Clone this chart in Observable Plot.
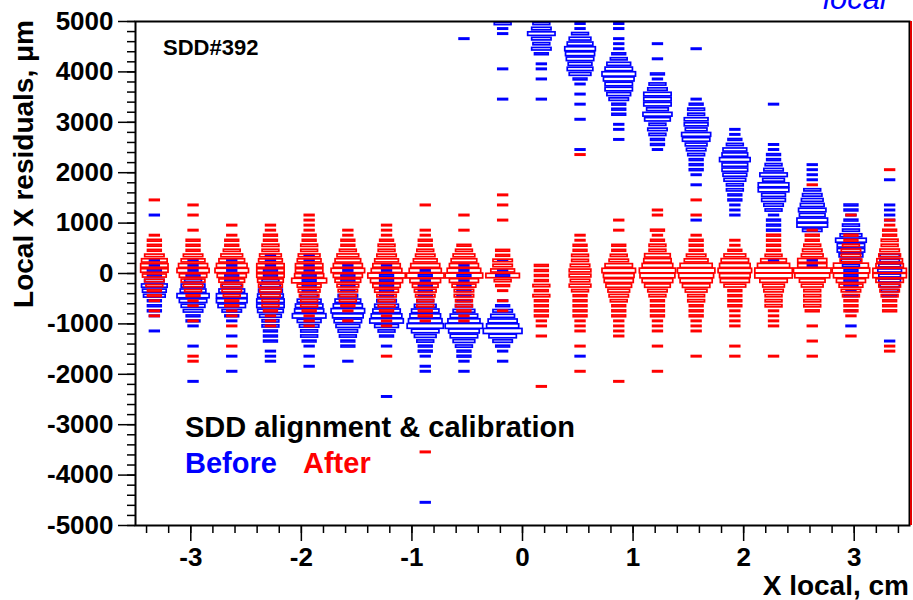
<!DOCTYPE html>
<html><head><meta charset="utf-8">
<script src="https://cdn.jsdelivr.net/npm/d3@7"></script>
<script src="https://cdn.jsdelivr.net/npm/@observablehq/plot@0.6"></script>
<style>body{margin:0;background:#fff} #chart{position:relative;width:913px;height:600px}</style>
</head><body><div id="chart"></div>
<script>
// X bin centres (cm), 20 bins of 0.35 cm
const xCenters = [-3.325,-2.975,-2.625,-2.275,-1.925,-1.575,-1.225,-0.875,-0.525,-0.175,0.175,0.525,0.875,1.225,1.575,1.925,2.275,2.625,2.975,3.325];
// Per x bin: runs of [first y-bin centre (µm), counts in consecutive 100 µm bins]
const before = [
 [[-1150,[1,0,0,1,2,2,2,5,6,7,4,2,2,1,1]],[1150,[1]]],
 [[-2150,[1]],[-1450,[1]],[-1050,[1,2,2,4,6,8,11,7,6,3,2,1,1,1]]],
 [[-1950,[1]],[-1650,[1]],[-1250,[1,0,0,1,2,4,8,10,10,7,4,2,2,1,1,1]]],
 [[-1750,[1,1,1,0,2,2,2,3,3,5,7,8,8,7,6,4,3,2,2,1,1,1]]],
 [[-1850,[1]],[-1650,[1]],[-1450,[1,2,3,3,4,6,12,9,8,6,3,2,2,2,2,1,1,1,1]]],
 [[-1750,[1]],[-1450,[2,2,3,4,6,8,10,12,9,7,4,2,2,2,2,1,1]]],
 [[-2450,[1]],[-1450,[1,0,2,3,6,12,10,8,6,4,2,2,2,2,2,1,1]]],
 [[-4550,[1]],[-1950,[1,1,0,1,2,2,3,5,8,14,12,10,8,5,3,2,2,2,1,2,1]]],
 [[-1950,[1,0,1,2,2,3,5,8,10,15,11,8,5,3,2,2,2,2,1,2,1,1]],[4650,[1]]],
 [[-1750,[1,0,1,2,4,8,16,11,9,6,4,2,1]],[-50,[2,1,0,1]],[3450,[1]],[4050,[1]],[4750,[1,1,3]]],
 [[3450,[1]],[3850,[1]],[4050,[1,1,0,2,4,3,4,8,4,3]]],
 [[-1650,[1]],[2450,[1]],[3050,[1]],[3350,[1]],[3550,[1]],[3750,[1,2,5,7,6,8,9,10,7,5,3,1,1]]],
 [[2650,[1]],[2850,[1,1,0,2,2,2,4,6,8,8,10,12,8,6,3,2,1,1,1,0,1,1]]],
 [[2450,[1,2,2,3,4,3,7,9,5,8,8,8,4,3,1,2]],[4250,[1]],[4550,[1]]],
 [[1050,[1]],[1750,[1]],[1950,[1,2,2,2,3,4,5,8,9,5,6,6,3,3,2,1]],[4450,[1]]],
 [[1150,[1,1,1,2,2,3,3,5,6,7,7,10,7,6,3,2,1,1]]],
 [[250,[1]],[850,[2,2,2,1,3,4,6,6,10,10,5,8,4,3,2,2,1,1]],[3350,[1]]],
 [[150,[1,1]],[850,[4,10,10,7,8,6,5,4,3,0,1,1,1,1]]],
 [[-1050,[1]],[-750,[1]],[-450,[2,1,2,2,2,2,3,4,6,8,8,10,5,3,3,2,1,2,2]]],
 [[-1350,[1]],[-450,[2,3,4,5,5,6,5,4,4]],[1050,[1,1,1,1]],[1850,[1]]]
];
const after = [
 [[-850,[1,1,0,1,2,2,3,4,6,8,8,7,4,2,2,2,1]],[1450,[1]]],
 [[-1750,[1,1]],[-950,[1]],[-650,[1,1,2,3,4,6,8,11,9,6,4,2,2,2,0,1]],[1150,[1]],[1350,[1]]],
 [[-1450,[1]],[-1050,[1]],[-850,[1,1,2,2,3,4,5,7,9,12,10,7,5,3,2,2,1,0,1]]],
 [[-1050,[1,1,1,2,3,3,4,5,6,7,8,8,8,6,5,3,3,2,2,1,1]]],
 [[-1050,[1,1,1,2,3,3,4,5,6,13,9,8,8,6,5,3,3,2,2,1,1,1,1]]],
 [[-950,[1]],[-750,[1,2,3,3,4,5,7,9,12,9,7,5,3,2,2,1,1]]],
 [[-1650,[1]],[-1050,[1,1,1,2,3,3,4,6,8,11,15,10,8,6,4,3,3,2,1,1,1]]],
 [[-3550,[1]],[-950,[1,2,2,3,3,4,5,7,10,15,11,9,6,4,3,2,2,1,1,0,0,0,0,1]]],
 [[-950,[1,1,2,3,3,4,4,6,9,15,12,9,7,5,3,2,0,0,1,0,0,1]]],
 [[-750,[1,0,1,0,1,2,3,12,6,4,4,2,2]],[1050,[1]],[1350,[1]],[1550,[1]]],
 [[-2250,[1]],[-1250,[1]],[-1050,[1,1,2,2,2,2,3,2,3,2,2,2,2]]],
 [[-1950,[1]],[-1450,[1]],[-1150,[1,1,1,2,2,2,2,2,3,5,4,5,5,4,3,3,2,2,1,1]],[2350,[1]]],
 [[-2150,[1]],[-1250,[1,1,1,1,2,2,2,3,4,5,7,9,10,12,8,4,3,2,2,0,0,1,0,1]]],
 [[-1950,[1]],[-1450,[1]],[-1150,[1,1,1,2,2,2,2,3,4,7,10,13,14,10,8,7,3,3,2,1,2,0,0,1,1]]],
 [[-1650,[1]],[-1150,[1,1,1,2,2,2,3,3,5,8,11,13,15,11,6,4,2,2,2,1,0,0,0,1,0,0,1]]],
 [[-1650,[1]],[-1450,[1]],[-1050,[1,1,1,1,2,2,2,2,5,9,10,12,10,8,5,2,1,1]]],
 [[-1650,[1]],[-1050,[1,1,1,1,3,3,3,4,5,8,15,15,11,7,3,2,2,2,2]]],
 [[-1650,[1]],[-1350,[1]],[-1050,[1,0,0,2,3,3,3,3,5,7,13,15,9,9,5,4,3,2,2,1]],[1750,[1]]],
 [[-1250,[1]],[-850,[1,2,2,2,3,4,6,9,13,15,13,5,4,4,3,2,2]],[1150,[1]]],
 [[-1550,[1,1]],[-750,[2,2,2,3,4,5,8,12,12,8,7,5,4,3,3,2,2,1,1]],[2050,[1]]]
];
const yTickValues = [-5000,-4000,-3000,-2000,-1000,0,1000,2000,3000,4000,5000];
const xTickValues = [-3,-2,-1,0,1,2,3];

const FULL = 16;          // content giving a full-cell box
const HALF_X = 0.175, HALF_Y = 50;
function toCells(series, name) {
  const out = [];
  series.forEach((runs, i) => runs.forEach(([y0, counts]) => counts.forEach((n, k) => {
    if (n > 0) out.push({series: name, x: xCenters[i], y: y0 + 100 * k, n});
  })));
  return out;
}
const cellsBefore = toCells(before, "Before");
const cellsAfter = toCells(after, "After");
const sz = d => Math.sqrt(d.n / FULL);
const boxOpts = color => ({
  x1: d => d.x - HALF_X * sz(d), x2: d => d.x + HALF_X * sz(d),
  y1: d => d.y - HALF_Y * sz(d), y2: d => d.y + HALF_Y * sz(d),
  stroke: color, fill: "none", strokeWidth: 1.7
});
const fmt = d => String(d);
const font = {fontSize: 26, fontWeight: "bold"};

const svg = Plot.plot({
  width: 913, height: 600,
  marginLeft: 135, marginRight: 4, marginTop: 21, marginBottom: 75,
  style: {fontFamily: "'Liberation Sans', Arial, Helvetica, sans-serif", background: "white", color: "black"},
  x: {domain: [-3.5, 3.5], label: null},
  y: {domain: [-5000, 5000], label: null},
  marks: [
    Plot.rect(cellsBefore, boxOpts("#0000ff")),
    Plot.rect(cellsAfter, boxOpts("#ff0000")),
    Plot.frame({stroke: "black", strokeWidth: 2}),
    Plot.axisY(d3.range(-5000, 5001, 200), {tickSize: 8, tickFormat: () => "", strokeWidth: 1.5, label: null}),
    Plot.axisY(yTickValues, {tickSize: 17, tickPadding: 5, tickFormat: fmt, strokeWidth: 1.5, label: null, ...font}),
    Plot.axisX(d3.range(-3.4, 3.41, 0.2), {tickSize: 8, tickFormat: () => "", strokeWidth: 1.5, label: null}),
    Plot.axisX(xTickValues, {tickSize: 16, tickPadding: 6, tickFormat: fmt, strokeWidth: 1.5, label: null, ...font})
  ]
});
document.getElementById("chart").append(svg);

const s = d3.select(svg);
const ff = "'Liberation Sans', Arial, Helvetica, sans-serif";
function txt(t, x, y, o = {}) {
  const e = s.append("text").attr("x", x).attr("y", y).text(t)
    .attr("font-family", ff).attr("font-weight", o.weight || "bold")
    .attr("font-size", o.size || 29).attr("fill", o.color || "black")
    .attr("text-anchor", o.anchor || "start");
  if (o.style) e.attr("font-style", o.style);
  if (o.transform) e.attr("transform", o.transform).attr("x", 0).attr("y", 0);
  return e;
}
s.append("line").attr("x1", 911).attr("x2", 911).attr("y1", 21).attr("y2", 525)
  .attr("stroke", "#e00000").attr("stroke-width", 2);
txt("SDD#392", 163, 55, {size: 22});
txt("SDD alignment & calibration", 185, 437);
txt("Before", 185, 473, {color: "#0000ff"});
txt("After", 303, 473, {color: "#ff0000"});
txt("Local X residuals, μm", 0, 0, {anchor: "end", size: 28, transform: "translate(33,20) rotate(-90)"});
txt("X local, cm", 909, 595, {anchor: "end", size: 28});
txt("local", 823, 9, {color: "#0000ff", weight: "normal", style: "italic", size: 31});
</script>
</body></html>
